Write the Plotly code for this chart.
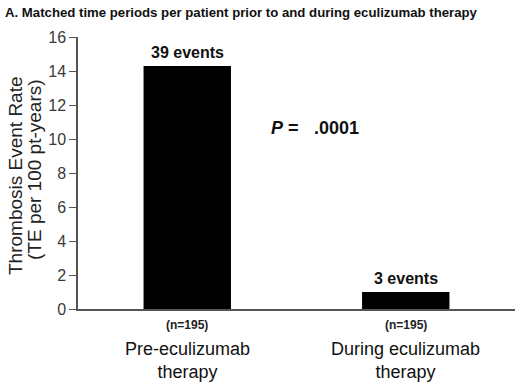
import plotly.graph_objects as go

categories = ["Pre-eculizumab<br>therapy", "During eculizumab<br>therapy"]
rates = [14.3, 1.0]
event_labels = ["39 events", "3 events"]
n_labels = ["(n=195)", "(n=195)"]
y_ticks = [0, 2, 4, 6, 8, 10, 12, 14, 16]
title_text = "A. Matched time periods per patient prior to and during eculizumab therapy"
y_title_lines = ["Thrombosis Event Rate", "(TE per 100 pt-years)"]
p_label = "<i>P</i> ="
p_value = ".0001"

FONT = "Liberation Sans, Arial, sans-serif"

fig = go.Figure()
fig.add_trace(go.Bar(
    x=categories, y=rates, width=0.4,
    marker=dict(color="#000000", line=dict(width=0)),
    hoverinfo="skip",
))

ann = []
for c, r, t in zip(categories, rates, event_labels):
    ann.append(dict(x=c, y=r, xref="x", yref="y", text="<b>" + t + "</b>",
                    showarrow=False, yanchor="bottom", yshift=3,
                    font=dict(size=16, color="#111", family=FONT)))
for c, n in zip(categories, n_labels):
    ann.append(dict(x=c, y=0, xref="x", yref="paper", text="<b>" + n + "</b>",
                    showarrow=False, yanchor="middle", yshift=-16,
                    font=dict(size=12, color="#222", family=FONT)))
    ann.append(dict(x=c, y=0, xref="x", yref="paper", text=c,
                    showarrow=False, yanchor="top", yshift=-28,
                    font=dict(size=18, color="#111", family=FONT)))

ann.append(dict(x=285, y=128, xref="paper", yref="paper", text="<b>" + p_label + "</b>",
                showarrow=False, font=dict(size=18, color="#111", family=FONT)))
ann.append(dict(x=336, y=128, xref="paper", yref="paper", text="<b>" + p_value + "</b>",
                showarrow=False, font=dict(size=18, color="#111", family=FONT)))
ann.append(dict(x=3, y=12, xref="paper", yref="paper", text="<b>" + title_text + "</b>",
                showarrow=False, xanchor="left", yanchor="middle",
                font=dict(size=13.2, color="#111", family=FONT)))
for txt, px, py in zip(y_title_lines, [15, 34], [176, 170]):
    ann.append(dict(x=px, y=py, xref="paper", yref="paper", text=txt, textangle=-90,
                    showarrow=False, xanchor="center", yanchor="middle",
                    font=dict(size=19, color="#222", family=FONT)))

# convert pixel-based paper annotations
W, H = 520, 386
L, R, T, B = 78, 5, 37, 77
pw, ph = W - L - R, H - T - B
for a in ann:
    if a["xref"] == "paper" and a["yref"] == "paper":
        a["x"] = (a["x"] - L) / pw
        a["y"] = (H - B - a["y"]) / ph

fig.update_layout(
    width=W, height=H,
    margin=dict(l=L, r=R, t=T, b=B),
    paper_bgcolor="white", plot_bgcolor="white",
    showlegend=False,
    font=dict(family=FONT, color="#222"),
    annotations=ann,
    xaxis=dict(showticklabels=False, ticks="", showline=True, linecolor="#555",
               linewidth=1.5, showgrid=False, zeroline=False, range=[-0.5, 1.5]),
    yaxis=dict(range=[0, 16], tickvals=y_ticks, ticks="outside", ticklen=7,
               tickcolor="#555", showline=True, linecolor="#555", linewidth=1.5,
               showgrid=False, zeroline=False,
               tickfont=dict(size=16, color="#3a3a3a", family=FONT)),
)

fig.write_html("out.html", config={"displayModeBar": False},
               post_script="document.body.style.margin='0';document.body.style.padding='0';")
